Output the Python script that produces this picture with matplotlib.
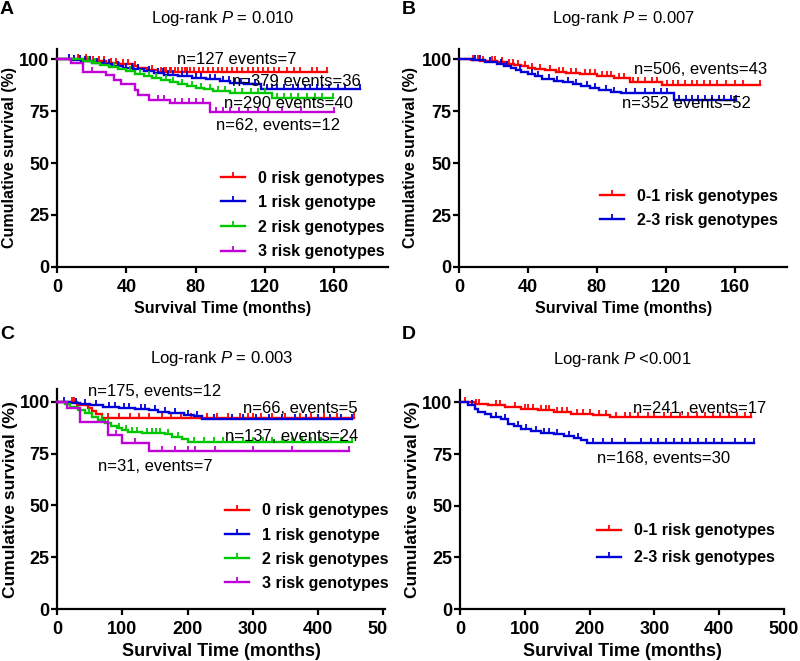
import numpy as np
import matplotlib
matplotlib.use("Agg")
import matplotlib.pyplot as plt
from matplotlib.lines import Line2D
from matplotlib.transforms import Bbox, TransformedBbox

plt.rcParams['font.family'] = ['Liberation Sans', 'DejaVu Sans']
plt.rcParams['mathtext.fontset'] = 'custom'
plt.rcParams['mathtext.it'] = 'Liberation Sans:italic'
plt.rcParams['mathtext.rm'] = 'Liberation Sans'

# ---------------- DATA ----------------
# Panel A (months)
A_titles = "Log-rank $\\mathit{P}$ = 0.010"
A_labels = ["0 risk genotypes", "1 risk genotype", "2 risk genotypes", "3 risk genotypes"]
A0_t = [0, 18, 28, 36, 44, 47, 52, 58, 156]
A0_s = [100, 99.2, 98.4, 97.6, 96.8, 95.9, 95.0, 94.0, 94.0]
A0_c = [12, 17, 21, 24, 27, 31, 34, 38, 41, 45, 55, 60, 62, 63, 65, 66, 68, 70, 72, 74, 75, 77, 79,
        82, 84, 87, 90, 93, 95, 98, 101, 104, 107, 110, 113, 116, 119, 122, 125, 128, 133, 137,
        140, 147, 150, 156]
A1_t = [0, 8, 14, 20, 26, 32, 38, 44, 50, 56, 62, 70, 78, 86, 94, 100, 108, 118, 175]
A1_s = [100, 99.6, 99.0, 98.3, 97.6, 96.8, 96.0, 95.2, 94.3, 93.4, 92.7, 92.0, 91.2, 90.4, 89.6,
        88.8, 88.0, 85.5, 85.5]
A1_c = [7, 10, 13, 16, 19, 23, 27, 30, 35, 40, 43, 47, 53, 58, 61, 64, 67, 72, 75, 80, 83, 88, 91,
        96, 99, 103, 106, 111, 114, 121, 124, 127, 131, 136, 139, 143, 146, 150, 153, 157, 162,
        166, 175]
A2_t = [0, 15, 20, 25, 30, 35, 40, 45, 50, 55, 60, 65, 70, 75, 80, 85, 90, 100, 124, 159]
A2_s = [100, 99.3, 98.3, 97.4, 96.4, 95.3, 94.2, 93.0, 91.9, 90.9, 89.9, 89.0, 88.0, 87.2, 86.4,
        85.5, 84.6, 83.8, 81.5, 81.5]
A2_c = [18, 22, 33, 42, 48, 53, 57, 63, 67, 72, 78, 83, 88, 93, 97, 103, 107, 112, 116, 120,
        127, 131, 135, 139, 144, 149, 153, 159]
A3_t = [0, 8, 15, 28, 33, 37, 45, 47, 53, 65, 88, 160]
A3_s = [100, 98.4, 94.0, 92.4, 90.0, 87.9, 85.2, 82.8, 80.4, 78.8, 74.7, 74.7]
A3_c = [20, 58, 62, 68, 72, 76, 80, 84, 92, 96, 100, 105, 110, 116, 122, 130, 141, 160]
A_notes = ["n=127 events=7", "n=379 events=36", "n=290 events=40", "n=62, events=12"]
A_note_x = [103.7, 138.4, 133.5, 127.7]
A_note_y = [100.0, 89.2, 78.8, 68.3]

# Panel B (months)
B_title = "Log-rank $\\mathit{P}$ = 0.007"
B_labels = ["0-1 risk genotypes", "2-3 risk genotypes"]
B0_t = [0, 7, 12, 17, 22, 27, 32, 36, 40, 44, 50, 56, 62, 70, 80, 90, 99, 118, 175]
B0_s = [100, 99.7, 99.4, 99.0, 98.6, 98.0, 97.4, 96.8, 96.0, 95.4, 94.8, 94.1, 93.5, 92.8, 92.0,
        91.2, 89.3, 87.5, 87.5]
B0_c = [8, 11, 14, 19, 21, 25, 29, 31, 34, 38, 42, 47, 53, 58, 60, 65, 68, 73, 76, 79, 83, 86, 88,
        93, 96, 101, 104, 108, 112, 115, 121, 124, 127, 131, 135, 138, 142, 146, 150, 155, 160,
        165, 175]
B1_t = [0, 8, 15, 22, 26, 30, 33, 36, 40, 44, 48, 55, 60, 66, 71, 76, 81, 88, 94, 125, 161]
B1_s = [100, 99.5, 98.8, 97.6, 96.8, 95.8, 94.8, 93.8, 92.8, 91.8, 90.7, 89.8, 89.0, 88.0, 87.0,
        86.2, 85.4, 84.5, 83.7, 80.3, 80.3]
B1_c = [9, 12, 18, 24, 28, 35, 42, 46, 52, 57, 63, 68, 74, 79, 85, 90, 97, 102, 108, 113, 117,
        121, 128, 132, 135, 139, 143, 147, 151, 154, 158, 161]
B_notes = ["n=506, events=43", "n=352 events=52"]
B_note_x = [140.0, 132.2]
B_note_y = [94.9, 78.9]

# Panel C (months)
C_title = "Log-rank $\\mathit{P}$ = 0.003"
C_labels = ["0 risk genotypes", "1 risk genotype", "2 risk genotypes", "3 risk genotypes"]
C0_t = [0, 30, 47, 53, 60, 68, 455]
C0_s = [100, 98.5, 97.0, 95.4, 93.9, 92.3, 92.3]
C0_c = [22, 25, 78, 95, 112, 125, 140, 160, 175, 190, 205, 230, 245, 262, 280, 292, 300, 312,
        330, 350, 372, 390, 410, 430, 455]
C1_t = [0, 20, 35, 50, 70, 95, 120, 140, 155, 172, 195, 210, 222, 452]
C1_s = [100, 99.4, 98.8, 98.2, 97.6, 97.0, 96.4, 95.8, 95.1, 94.5, 93.8, 93.1, 91.7, 91.7]
C1_c = [10, 28, 42, 60, 80, 88, 102, 110, 128, 135, 150, 165, 180, 200, 215, 240, 268, 285, 305,
        325, 345, 365, 382, 400, 418, 436, 452]
C2_t = [0, 12, 20, 32, 42, 53, 63, 73, 83, 91, 99, 109, 130, 165, 176, 191, 201, 452]
C2_s = [100, 98.8, 97.6, 96.0, 94.4, 92.8, 91.2, 89.9, 88.3, 87.1, 86.3, 85.5, 84.7, 84.2, 83.1,
        81.8, 80.7, 80.7]
C2_c = [48, 68, 78, 95, 105, 115, 122, 138, 145, 152, 158, 170, 185, 210, 225, 240, 255, 270, 285,
        300, 315, 330, 345, 360, 375, 390, 405, 420, 436, 452]
C3_t = [0, 15, 35, 78, 100, 140, 447]
C3_s = [100, 96.8, 90.3, 83.9, 80.3, 76.0, 76.0]
C3_c = [90, 120, 160, 180, 200, 212, 242, 300, 360, 447]
C_notes = ["n=175, events=12", "n=66, events=5", "n=137, events=24", "n=31, events=7"]
C_note_x = [150.0, 372.6, 359.8, 150.0]
C_note_y = [104.8, 96.5, 83.1, 68.6]

# Panel D (months)
D_title = "Log-rank $\\mathit{P}$ <0.001"
D_labels = ["0-1 risk genotypes", "2-3 risk genotypes"]
D0_t = [0, 23, 43, 69, 94, 120, 145, 171, 206, 232, 449]
D0_s = [100, 99.4, 98.6, 97.7, 97.0, 96.1, 95.3, 94.5, 93.7, 92.9, 92.9]
D0_c = [8, 25, 30, 55, 62, 85, 100, 105, 112, 125, 132, 138, 150, 158, 165, 180, 190, 200, 215,
        225, 240, 255, 262, 275, 290, 300, 315, 325, 340, 352, 365, 378, 390, 402, 415, 428,
        440, 449]
D1_t = [0, 13, 23, 28, 38, 48, 64, 74, 84, 94, 110, 125, 145, 160, 176, 186, 196, 453]
D1_s = [100, 98.6, 97.0, 95.3, 94.2, 92.9, 92.1, 89.7, 88.4, 87.3, 86.1, 85.2, 84.5, 83.6, 82.8,
        82.0, 80.3, 80.3]
D1_c = [18, 55, 70, 90, 102, 118, 130, 138, 150, 168, 182, 205, 220, 235, 255, 280, 295, 305,
        318, 330, 342, 355, 368, 380, 392, 405, 425, 440, 453]
D_notes = ["n=241, events=17", "n=168, events=30"]
D_note_x = [369.6, 313.5]
D_note_y = [97.0, 72.8]

COLORS4 = ['#FF0000', '#0000D8', '#00C800', '#C000D8']
COLORS2 = ['#FF0000', '#0000D8']

# ---------------- FIGURE ----------------
W, H = 800, 661
fig = plt.figure(figsize=(W / 100, H / 100), dpi=100)


def rect(l, t, r, b):
    return [l / W, 1 - b / H, (r - l) / W, (b - t) / H]


def km(ax, t, s, c, color):
    t = np.asarray(t, float)
    s = np.asarray(s, float)
    ax.step(t, s, where='post', color=color, lw=1.7, solid_joinstyle='miter', clip_on=False, zorder=3)
    c = np.asarray(c, float)
    idx = np.searchsorted(t, c, side='right') - 1
    ax.plot(c, s[idx], ls='none', marker=2, markersize=3.8, mew=1.3, color=color, clip_on=False, zorder=3)


def setup(ax, box, xmax, ymax, xticks, title, letter, letter_xy, fs_lab, xlabelpad, ylab_right):
    ax.set_xlim(0, xmax)
    ax.set_ylim(0, ymax)
    ax.set_xticks(xticks)
    ax.set_yticks([0, 25, 50, 75, 100])
    for sp in ['top', 'right']:
        ax.spines[sp].set_visible(False)
    for sp in ['left', 'bottom']:
        ax.spines[sp].set_linewidth(1.6)
    ax.tick_params(direction='out', length=4, width=1.6, labelsize=13)
    ax.tick_params(axis='x', pad=4.5)
    ax.tick_params(axis='y', pad=1.5)
    for lab in ax.get_xticklabels() + ax.get_yticklabels():
        lab.set_fontweight('bold')
    ax.set_xlabel("Survival Time (months)", fontsize=fs_lab, fontweight='bold', labelpad=xlabelpad)
    ax.set_ylabel("Cumulative survival (%)", fontsize=fs_lab, fontweight='bold')
    l, t, r, b = box
    ax.yaxis.set_label_coords((ylab_right - l) / (r - l), 0.5)
    ax.set_title(title, fontsize=12, pad=19)
    fig.text(letter_xy[0] / W, 1 - letter_xy[1] / H, letter, fontsize=14, fontweight='bold',
             ha='left', va='center')


def notes(ax, txts, xs, ys):
    for s, x, y in zip(txts, xs, ys):
        ax.text(x, y, s, fontsize=12, ha='center', va='center', zorder=5)


def legend(ax, colors, labels, x, ytop, ls):
    handles = [Line2D([], [], color=c, lw=1.7, marker=2, markersize=3.8, mew=1.3) for c in colors]
    leg = ax.legend(handles, labels, loc='upper left', bbox_to_anchor=(x / W, 1 - ytop / H),
                    bbox_transform=fig.transFigure, frameon=False, numpoints=1,
                    handlelength=1.5, handletextpad=0.8, labelspacing=ls, borderpad=0,
                    borderaxespad=0, prop={'weight': 'bold', 'size': 11.5})
    return leg


# Panel A
boxA = (57, 49, 388, 266.7)
axA = fig.add_axes(rect(*boxA))
for (t, s, c), col in zip([(A0_t, A0_s, A0_c), (A1_t, A1_s, A1_c), (A2_t, A2_s, A2_c),
                           (A3_t, A3_s, A3_c)], COLORS4):
    km(axA, t, s, c, col)
setup(axA, boxA, 191, 105, [0, 40, 80, 120, 160], A_titles, "A", (0, 9), 11.5, 4, 17)
notes(axA, A_notes, A_note_x, A_note_y)
legend(axA, COLORS4, A_labels, 221, 170.5, 0.6)

# Panel B
boxB = (459.3, 49, 787, 267)
axB = fig.add_axes(rect(*boxB))
for (t, s, c), col in zip([(B0_t, B0_s, B0_c), (B1_t, B1_s, B1_c)], COLORS2):
    km(axB, t, s, c, col)
setup(axB, boxB, 190.5, 105, [0, 40, 80, 120, 160], B_title, "B", (402, 9), 11.5, 4, 418)
notes(axB, B_notes, B_note_x, B_note_y)
legend(axB, COLORS2, B_labels, 600, 188.5, 0.6)

# Panel C
boxC = (57.3, 389.3, 385, 609)
axC = fig.add_axes(rect(*boxC))
for (t, s, c), col in zip([(C0_t, C0_s, C0_c), (C1_t, C1_s, C1_c), (C2_t, C2_s, C2_c),
                           (C3_t, C3_s, C3_c)], COLORS4):
    km(axC, t, s, c, col)
setup(axC, boxC, 503, 106, [0, 100, 200, 300, 400, 500], C_title, "C", (0, 334), 12.5, 4, 18)
axC.xaxis.label.set_fontsize(13)
notes(axC, C_notes, C_note_x, C_note_y)
legend(axC, COLORS4, C_labels, 225, 503.5, 0.57)

# Panel D
boxD = (460, 390, 784, 609)
axD = fig.add_axes(rect(*boxD))
for (t, s, c), col in zip([(D0_t, D0_s, D0_c), (D1_t, D1_s, D1_c)], COLORS2):
    km(axD, t, s, c, col)
setup(axD, boxD, 500, 106, [0, 100, 200, 300, 400, 500], D_title, "D", (402, 334), 12.5, 4, 420)
axD.xaxis.label.set_fontsize(13)
notes(axD, D_notes, D_note_x, D_note_y)
legend(axD, COLORS2, D_labels, 597, 523.5, 0.75)

# the last x tick label of panel C is cut at the panel edge in the original
clipbox = TransformedBbox(Bbox([[0, 0], [388 / W, 1]]), fig.transFigure)
fig.canvas.draw()
for lab in axC.get_xticklabels():
    if lab.get_text() == '500':
        lab.set_clip_box(clipbox)
        lab.set_clip_on(True)

fig.savefig("out.png", dpi=100)
